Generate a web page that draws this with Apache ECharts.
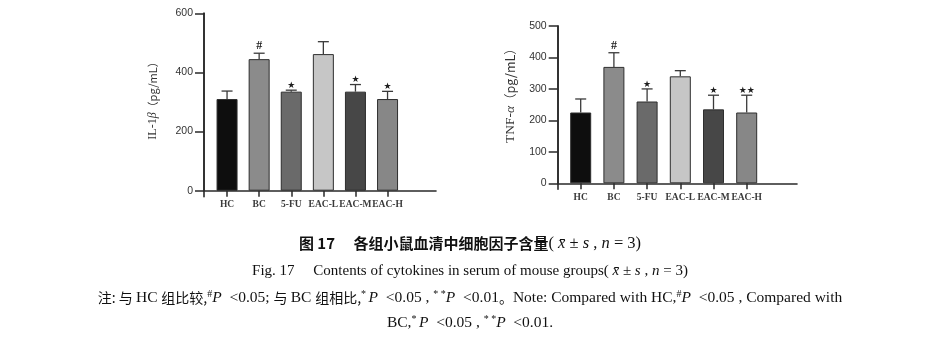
<!DOCTYPE html>
<html>
<head>
<meta charset="utf-8">
<script src="https://cdn.jsdelivr.net/npm/echarts@6/dist/echarts.min.js"></script>
<style>
html,body{margin:0;padding:0;background:#fff;}
#c{width:940px;height:342px;}
</style>
</head>
<body>
<div id="c"></div>
<script>
// ---- data ----
const categories = ['HC', 'BC', '5-FU', 'EAC-L', 'EAC-M', 'EAC-H'];
const il1bMean = [310, 445, 335, 462, 335, 310];
const il1bSD   = [27, 20, 5, 42, 24, 26];
const il1bSig  = ['', '#', '*', '', '*', '*'];
const il1bTickMax = 600, il1bTickStep = 200;
const tnfMean  = [225, 370, 260, 340, 235, 225];
const tnfSD    = [43, 45, 40, 18, 45, 55];
const tnfSig   = ['', '#', '*', '', '*', '**'];
const tnfTickMax = 500, tnfTickStep = 100;
const barColors = ['#0e0e0e', '#8b8b8b', '#6a6a6a', '#c6c6c6', '#474747', '#878787'];

const chart = echarts.init(document.getElementById('c'), null, {renderer: 'canvas'});

const AX = '#2a2a2a';
function errRender(sigs) {
  return function (params, api) {
    const i = api.value(0);
    const top = api.coord([i, api.value(1)]);
    const cap = api.coord([i, api.value(2)]);
    const hw = 5.5;
    const ch = [
      {type: 'line', shape: {x1: top[0], y1: top[1], x2: cap[0], y2: cap[1]}, style: {stroke: '#3a3a3a', lineWidth: 1.3}},
      {type: 'line', shape: {x1: cap[0] - hw, y1: cap[1], x2: cap[0] + hw, y2: cap[1]}, style: {stroke: '#3a3a3a', lineWidth: 1.3}}
    ];
    const s = sigs[i];
    if (s) {
      const isHash = s === '#';
      ch.push({type: 'text', style: {
        x: cap[0], y: cap[1] - (isHash ? 1 : 0),
        text: isHash ? '#' : s.replace(/\*/g, '★'),
        align: 'center', verticalAlign: 'bottom',
        fontSize: isHash ? 12 : 9, fontWeight: 'bold',
        fontFamily: isHash ? 'Liberation Serif' : 'DejaVu Sans',
        fill: '#1e1e1e'
      }});
    }
    return {type: 'group', children: ch};
  };
}

function panel(idx, g, mean, sd, sig, max, step, nameRich, nameSize, namePad) {
  const xa = {
    type: 'category', gridIndex: idx * 2, data: categories,
    axisLine: {show: false},
    axisTick: {show: true, alignWithLabel: true, length: 6, lineStyle: {color: AX, width: 1.5}},
    axisLabel: {fontFamily: 'Liberation Serif', fontWeight: 'bold', fontSize: 9.5, color: '#3a3a3a', margin: 9, interval: 0}
  };
  const ya = {
    type: 'value', gridIndex: idx * 2, min: 0, max: max, interval: step, offset: g.off,
    axisLine: {show: true, lineStyle: {color: AX, width: 1.6}},
    axisTick: {show: true, length: 9, lineStyle: {color: AX, width: 1.5}},
    axisLabel: {fontFamily: 'Liberation Sans', fontSize: 10.5, color: '#333', margin: 11},
    splitLine: {show: false},
    name: nameRich, nameLocation: 'middle', nameGap: g.nameGap,
    nameTextStyle: {fontFamily: 'Liberation Serif', fontSize: nameSize, color: '#333', padding: namePad,
      rich: {n: {fontFamily: 'Liberation Serif', fontSize: nameSize, color: '#333'},
             g: {fontFamily: 'Liberation Serif', fontStyle: 'italic', fontSize: nameSize, color: '#333'},
             p: {fontFamily: 'Noto Sans CJK SC', fontSize: nameSize - 1, color: '#333'}}}
  };
  const xa2 = {type: 'value', gridIndex: idx * 2 + 1, min: 0, max: 1,
    axisLine: {show: true, onZero: true, lineStyle: {color: AX, width: 1.6}},
    axisTick: {show: false}, axisLabel: {show: false}, splitLine: {show: false}};
  const ya2 = {type: 'value', gridIndex: idx * 2 + 1, min: -6, max: g.height,
    axisLine: {show: true, lineStyle: {color: AX, width: 1.6}},
    axisTick: {show: false}, axisLabel: {show: false}, splitLine: {show: false}};
  const grids = [
    {left: g.left, top: g.top, width: g.width, height: g.height},
    {left: g.left - g.off, top: g.top, width: g.lineEnd - (g.left - g.off), height: g.height + 6}
  ];
  const series = [
    {type: 'bar', xAxisIndex: idx * 2, yAxisIndex: idx * 2, barWidth: 21,
      data: mean.map((v, i) => ({value: v, itemStyle: {color: barColors[i]}})),
      itemStyle: {borderColor: '#2e2e2e', borderWidth: 1}, z: 2},
    {type: 'custom', xAxisIndex: idx * 2, yAxisIndex: idx * 2,
      data: mean.map((v, i) => [i, v, v + sd[i]]),
      encode: {x: 0, y: [1, 2]}, renderItem: errRender(sig), z: 3}
  ];
  return {grids, xAxes: [xa, xa2], yAxes: [ya, ya2], series};
}

const L = panel(0, {left: 211, top: 13.3, width: 192.6, height: 177.4, off: 7, nameGap: 45, lineEnd: 436},
  il1bMean, il1bSD, il1bSig, il1bTickMax, il1bTickStep, '{n|IL-1}{g|β}{p|（pg/mL）}', 12, [0, 0, 0, 8]);
const R = panel(1, {left: 564.1, top: 26, width: 199.2, height: 157.3, off: 6.4, nameGap: 40, lineEnd: 797},
  tnfMean, tnfSD, tnfSig, tnfTickMax, tnfTickStep, '{n|TNF-}{g|α}{p|（pg/mL）}', 13.5, [0, 0, 0, 24]);

const N = 'normal';
const capRich = {
  b: {fontFamily: 'Noto Sans CJK SC', fontWeight: 'bold', fontSize: 15, color: '#111'},
  bi: {fontFamily: 'Liberation Serif', fontWeight: N, fontStyle: 'italic', fontSize: 16.5, color: '#111'},
  bn: {fontFamily: 'Liberation Serif', fontWeight: N, fontSize: 16.5, color: '#111'},
  e: {fontFamily: 'Liberation Serif', fontWeight: N, fontSize: 15, color: '#111'},
  ei: {fontFamily: 'Liberation Serif', fontWeight: N, fontStyle: 'italic', fontSize: 15, color: '#111'},
  c: {fontFamily: 'Noto Sans CJK SC', fontWeight: N, fontSize: 14, color: '#111'},
  t: {fontFamily: 'Liberation Serif', fontWeight: N, fontSize: 15.5, color: '#111'},
  ti: {fontFamily: 'Liberation Serif', fontWeight: N, fontStyle: 'italic', fontSize: 15.5, color: '#111'},
  sup: {fontFamily: 'Liberation Serif', fontWeight: N, fontSize: 10, color: '#111', padding: [0, 0, 8, 0]}
};

const titles = [
  {left: 'center', top: 235, text: '{b|图 17　 各组小鼠血清中细胞因子含量}{bn|( }{bi|x̄}{bn| ± }{bi|s}{bn| , }{bi|n}{bn| = 3)}'},
  {left: 'center', top: 264, text: '{e|Fig. 17　 Contents of cytokines in serum of mouse groups( }{ei|x̄}{e| ± }{ei|s}{e| , }{ei|n}{e| = 3)}'},
  {left: 'center', top: 289, text: '{c|注: 与 }{t|HC }{c|组比较,}{sup|#}{ti|P }{t| <0.05; }{c|与 }{t|BC }{c|组相比,}{sup|* }{ti|P }{t| <0.05 , }{sup|* *}{ti|P }{t| <0.01}{c|。}{t|Note: Compared with HC,}{sup|#}{ti|P }{t| <0.05 , Compared with}'},
  {left: 'center', top: 314, text: '{t|BC,}{sup|* }{ti|P }{t| <0.05 , }{sup|* *}{ti|P }{t| <0.01.}'}
].map(t => Object.assign(t, {padding: 0, textStyle: {rich: capRich, fontSize: 12, fontWeight: N}}));

chart.setOption({
  animation: false,
  backgroundColor: '#fff',
  title: titles,
  grid: [...L.grids, ...R.grids],
  xAxis: [...L.xAxes, ...R.xAxes],
  yAxis: [...L.yAxes, ...R.yAxes],
  series: [...L.series, ...R.series]
});
</script>
</body>
</html>
